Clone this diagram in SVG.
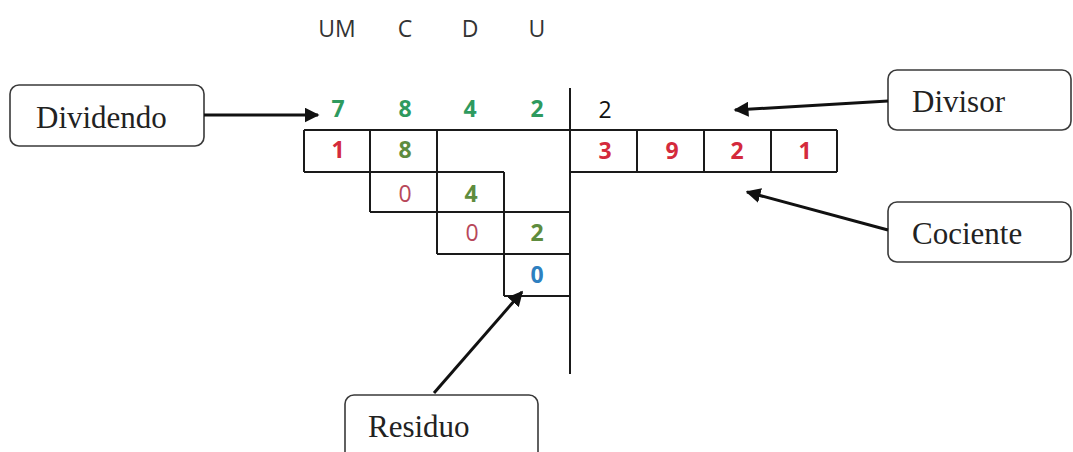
<svg xmlns="http://www.w3.org/2000/svg" width="1073" height="452" viewBox="0 0 1073 452">
  <style>
    .grid { stroke: #1a1a1a; stroke-width: 2; fill: none; }
    .box { fill: #ffffff; stroke: #3a3a3a; stroke-width: 1.6; }
    .lbl { font-family: "Liberation Serif", "Times New Roman", serif; font-size: 31px; fill: #222; }
    .hdr { font-family: "Open Sans", "Liberation Sans", sans-serif; font-size: 23px; fill: #333; text-anchor: middle; }
    .dg { font-family: "Open Sans", "Liberation Sans", sans-serif; font-size: 23px; font-weight: bold; text-anchor: middle; }
    .dividend { fill: #2e9a5e; }
    .red { fill: #d42a3c; }
    .olive { fill: #5e8c3e; }
    .rest { fill: #b8485a; font-weight: normal; }
    .blue { fill: #2e80c0; }
    .conn { stroke: #111; stroke-width: 3; fill: none; marker-end: url(#head); }
  </style>
  <defs>
    <marker id="head" viewBox="0 0 10 10" refX="9" refY="5" markerWidth="5" markerHeight="5" orient="auto" markerUnits="strokeWidth">
      <path d="M0,0 L10,5 L0,10 z" fill="#111"/>
    </marker>
  </defs>
  <rect width="1073" height="452" fill="#ffffff"/>

  <!-- place-value headers -->
  <g id="headers">
    <text class="hdr" x="337" y="37">UM</text>
    <text class="hdr" x="405" y="37">C</text>
    <text class="hdr" x="470" y="37">D</text>
    <text class="hdr" x="537" y="37">U</text>
  </g>

  <!-- division layout -->
  <g id="division">
    <line class="grid" x1="570" y1="88" x2="570" y2="374"/>
    <line class="grid" x1="304" y1="130" x2="837" y2="130"/>
    <line class="grid" x1="304" y1="172" x2="504" y2="172"/>
    <line class="grid" x1="570" y1="172" x2="837" y2="172"/>
    <line class="grid" x1="370" y1="212" x2="570" y2="212"/>
    <line class="grid" x1="437" y1="254" x2="570" y2="254"/>
    <line class="grid" x1="504" y1="296" x2="570" y2="296"/>
    <line class="grid" x1="304" y1="130" x2="304" y2="172"/>
    <line class="grid" x1="370" y1="130" x2="370" y2="212"/>
    <line class="grid" x1="437" y1="130" x2="437" y2="254"/>
    <line class="grid" x1="504" y1="172" x2="504" y2="296"/>
    <line class="grid" x1="637" y1="130" x2="637" y2="172"/>
    <line class="grid" x1="704" y1="130" x2="704" y2="172"/>
    <line class="grid" x1="771" y1="130" x2="771" y2="172"/>
    <line class="grid" x1="837" y1="130" x2="837" y2="172"/>

    <!-- dividend -->
    <text class="dg dividend" x="338" y="117">7</text>
    <text class="dg dividend" x="405" y="117">8</text>
    <text class="dg dividend" x="470" y="117">4</text>
    <text class="dg dividend" x="537" y="117">2</text>
    <!-- divisor -->
    <text class="hdr" x="605" y="118" style="fill:#111">2</text>

    <!-- steps -->
    <text class="dg red" x="338" y="158">1</text>
    <text class="dg olive" x="405" y="158">8</text>
    <text class="dg rest" x="405" y="202">0</text>
    <text class="dg olive" x="471" y="202">4</text>
    <text class="dg rest" x="472" y="241">0</text>
    <text class="dg olive" x="537" y="241">2</text>
    <text class="dg blue" x="537" y="283">0</text>

    <!-- quotient -->
    <text class="dg red" x="605" y="159">3</text>
    <text class="dg red" x="672" y="159">9</text>
    <text class="dg red" x="737" y="159">2</text>
    <text class="dg red" x="805" y="159">1</text>
  </g>

  <g id="dividendo">
    <rect class="box" x="10" y="85" width="194" height="61" rx="9"/>
    <text class="lbl" x="36" y="128">Dividendo</text>
  </g>
  <g id="divisor">
    <rect class="box" x="888" y="70" width="183" height="60" rx="9"/>
    <text class="lbl" x="912" y="112">Divisor</text>
  </g>
  <g id="cociente">
    <rect class="box" x="888" y="202" width="183" height="60" rx="9"/>
    <text class="lbl" x="912" y="244">Cociente</text>
  </g>
  <g id="residuo">
    <rect class="box" x="345" y="395" width="193" height="70" rx="9"/>
    <text class="lbl" x="368" y="437">Residuo</text>
  </g>

  <g id="connectors">
    <line class="conn" x1="204" y1="115" x2="318" y2="115"/>
    <line class="conn" x1="888" y1="101" x2="735" y2="110"/>
    <line class="conn" x1="888" y1="230" x2="747" y2="192"/>
    <line class="conn" x1="434" y1="393" x2="522" y2="292"/>
  </g>
</svg>
